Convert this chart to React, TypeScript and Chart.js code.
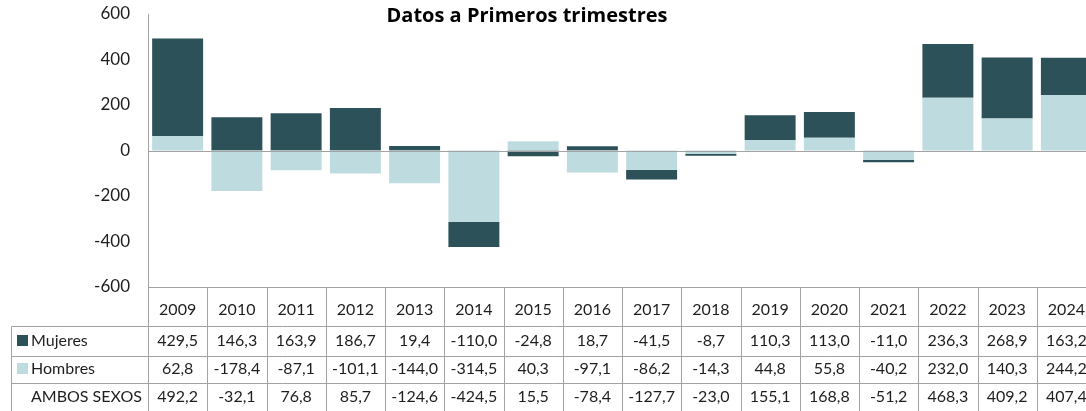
import React, { useEffect, useRef } from "react";
import { Chart, registerables } from "chart.js";

Chart.register(...registerables);

const years = ["2009", "2010", "2011", "2012", "2013", "2014", "2015", "2016", "2017", "2018", "2019", "2020", "2021", "2022", "2023", "2024"];
const mujeres = [429.5, 146.3, 163.9, 186.7, 19.4, -110.0, -24.8, 18.7, -41.5, -8.7, 110.3, 113.0, -11.0, 236.3, 268.9, 163.2];
const hombres = [62.8, -178.4, -87.1, -101.1, -144.0, -314.5, 40.3, -97.1, -86.2, -14.3, 44.8, 55.8, -40.2, 232.0, 140.3, 244.2];
const ambos = [492.2, -32.1, 76.8, 85.7, -124.6, -424.5, 15.5, -78.4, -127.7, -23.0, 155.1, 168.8, -51.2, 468.3, 409.2, 407.4];
const yTicks = [600, 400, 200, 0, -200, -400, -600];
const title = "Datos a Primeros trimestres";

const DARK = "#2C5158";
const LIGHT = "#BEDBDF";
const LINE = "#a3a3a3";
const TEXT = "#1e1e1e";
const FONT = "Lato, 'Open Sans', sans-serif";
const TITLE_FONT = "'Open Sans', Lato, sans-serif";

const fmt = (v: number) => v.toFixed(1).replace(".", ",");

export default function App() {
  const ref = useRef<HTMLCanvasElement>(null);
  useEffect(() => {
    if (!ref.current) return;
    const tablePlugin = {
      id: "tablePlugin",
      afterDatasetsDraw(chart: any) {
        const { ctx, chartArea } = chart;
        const y = chart.scales.y;
        const z = Math.round(y.getPixelForValue(0)) + 0.5;
        ctx.save();
        ctx.strokeStyle = LINE;
        ctx.lineWidth = 1;
        ctx.beginPath();
        ctx.moveTo(chartArea.left, z);
        ctx.lineTo(chartArea.right, z);
        ctx.stroke();
        ctx.restore();
      },
      afterDraw(chart: any) {
        const { ctx, chartArea } = chart;
        const x = chart.scales.x;
        const step = x.getPixelForValue(1) - x.getPixelForValue(0);
        const bottom = Math.round(chartArea.bottom) + 0.5;
        const rowLines = [326.5, 356.5, 383.5];
        const leftX = 11.5;
        ctx.save();
        ctx.strokeStyle = LINE;
        ctx.lineWidth = 1;
        ctx.beginPath();
        ctx.moveTo(chartArea.left, bottom);
        ctx.lineTo(chartArea.right, bottom);
        rowLines.forEach((ly) => {
          ctx.moveTo(leftX, ly);
          ctx.lineTo(chartArea.right, ly);
        });
        ctx.moveTo(leftX, rowLines[0]);
        ctx.lineTo(leftX, 411);
        for (let i = 0; i <= years.length; i++) {
          const bx = Math.round(x.getPixelForValue(i) - step / 2) + 0.5;
          ctx.moveTo(bx, bottom);
          ctx.lineTo(bx, 411);
        }
        ctx.stroke();

        // title
        ctx.fillStyle = "#000";
        ctx.font = `bold 20px ${TITLE_FONT}`;
        ctx.textAlign = "center";
        ctx.textBaseline = "middle";
        ctx.fillText(title, 527, 16);

        // rows
        const rows = [
          { label: "Mujeres", color: DARK, vals: mujeres, cy: 341 },
          { label: "Hombres", color: LIGHT, vals: hombres, cy: 369 },
          { label: "AMBOS SEXOS", color: null as string | null, vals: ambos, cy: 397 },
        ];
        ctx.font = `16px ${FONT}`;
        rows.forEach((r) => {
          if (r.color) {
            ctx.fillStyle = r.color;
            ctx.fillRect(17, r.cy - 6, 11, 11);
          }
          ctx.fillStyle = TEXT;
          ctx.textAlign = "left";
          ctx.fillText(r.label, 31, r.cy);
          ctx.textAlign = "center";
          r.vals.forEach((v, i) => {
            ctx.fillText(fmt(v), x.getPixelForValue(i), r.cy);
          });
        });
        ctx.restore();
      },
    };
    const chart = new Chart(ref.current, {
      type: "bar",
      data: {
        labels: years,
        datasets: [
          { label: "Hombres", data: hombres, backgroundColor: LIGHT, categoryPercentage: 1, barPercentage: 0.86 },
          { label: "Mujeres", data: mujeres, backgroundColor: DARK, categoryPercentage: 1, barPercentage: 0.86 },
        ],
      },
      options: {
        responsive: false,
        animation: false,
        layout: { padding: { left: 0, right: 4, top: 14, bottom: 0 } },
        plugins: { legend: { display: false }, title: { display: false }, tooltip: { enabled: false } },
        scales: {
          x: {
            stacked: true,
            grid: { display: false, drawTicks: false },
            border: { display: false },
            ticks: { color: TEXT, font: { family: FONT, size: 16 }, padding: 13, maxRotation: 0, autoSkip: false },
            afterFit: (s: any) => {
              s.height = 124;
            },
          },
          y: {
            stacked: true,
            min: -600,
            max: 600,
            afterBuildTicks: (s: any) => {
              s.ticks = yTicks.map((v) => ({ value: v }));
            },
            grid: { display: false, drawTicks: true, tickLength: 18 },
            border: { display: true, color: LINE, width: 1 },
            ticks: { color: TEXT, font: { family: FONT, size: 17 }, padding: 0 },
            afterFit: (s: any) => {
              s.width = 148;
            },
          },
        },
      },
      plugins: [tablePlugin],
    });
    return () => chart.destroy();
  }, []);
  return (
    <div style={{ position: "absolute", left: 0, top: 0, width: 1086, height: 411, overflow: "hidden", background: "#fff" }}>
      <canvas ref={ref} width={1100} height={411} />
    </div>
  );
}
